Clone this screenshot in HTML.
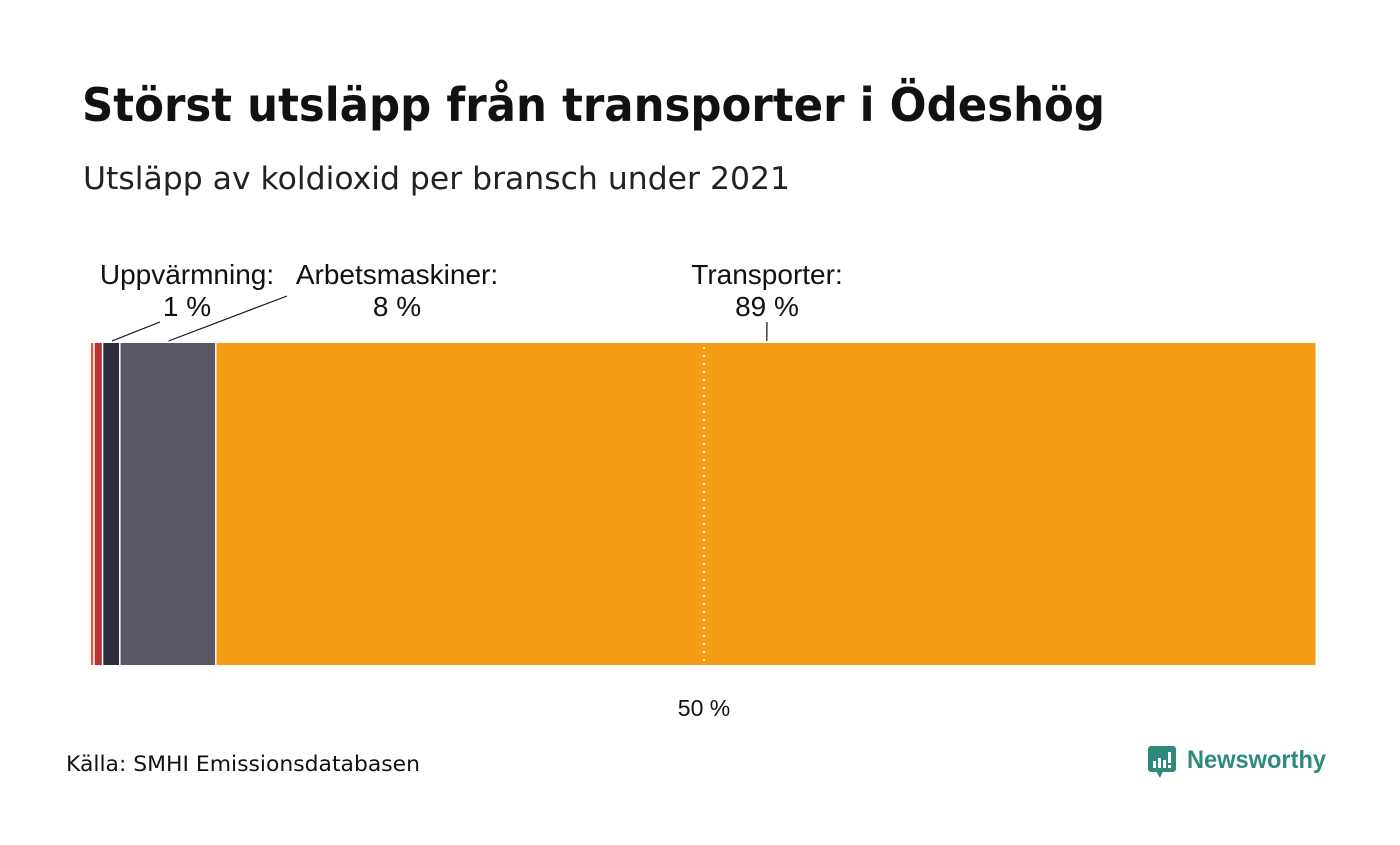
<!DOCTYPE html>
<html><head><meta charset="utf-8"><style>
body{margin:0;background:#fff;width:1400px;height:840px;overflow:hidden;font-family:"Liberation Sans",sans-serif}
</style></head><body>
<svg width="1400" height="840">
<text x="82" y="121" font-size="46" font-weight="bold" fill="#111" font-family="'DejaVu Sans',sans-serif" textLength="1023" lengthAdjust="spacingAndGlyphs">Störst utsläpp från transporter i Ödeshög</text>
<text x="83" y="189" font-size="31" fill="#222" font-family="'DejaVu Sans',sans-serif" textLength="707" lengthAdjust="spacingAndGlyphs">Utsläpp av koldioxid per bransch under 2021</text>
<g id="bars"></g>
<g id="labels" font-size="28" fill="#111" text-anchor="middle"></g>
<text x="704" y="716" font-size="23" text-anchor="middle" fill="#111">50 %</text>
<text x="66" y="771" font-size="21" fill="#111" font-family="'DejaVu Sans',sans-serif" textLength="354" lengthAdjust="spacingAndGlyphs">Källa: SMHI Emissionsdatabasen</text>
<g>
<rect x="1148" y="746" width="28" height="26" rx="3" fill="#2e8b7c"/>
<polygon points="1156,771 1163,771 1160,778" fill="#2e8b7c"/>
<rect x="1153" y="761" width="3" height="7" fill="#fff"/><rect x="1158" y="758" width="3" height="10" fill="#fff"/><rect x="1163" y="760" width="3" height="8" fill="#fff"/><rect x="1168" y="752" width="3" height="11" fill="#fff"/><rect x="1168" y="765" width="3" height="3" fill="#fff"/>
<text x="1187" y="768" font-size="25" font-weight="bold" fill="#2e8b7c" textLength="139" lengthAdjust="spacingAndGlyphs">Newsworthy</text>
</g>
</svg>
<script>
const categories=["Övrigt","Industri","Uppvärmning","Arbetsmaskiner","Transporter"];
const values=[0.3,0.7,1.4,7.8,89.4];
const colors=["#e05a2b","#b8323a","#2e2d3b","#5a5766","#f59c17"];
const x0=91,x1=1317,y0=343,y1=665;
const total=values.reduce((a,b)=>a+b,0);
const xs=v=>x0+(v/total)*(x1-x0);
const NS="http://www.w3.org/2000/svg";
const g=document.getElementById('bars');
let cum=0;const starts=[];
values.forEach((v,i)=>{
 const a=xs(cum),b=xs(cum+v);starts.push([a,b]);cum+=v;
 const r=document.createElementNS(NS,'rect');
 r.setAttribute('x',a);r.setAttribute('y',y0);r.setAttribute('width',Math.max(1.5,b-a-1.5));r.setAttribute('height',y1-y0);r.setAttribute('fill',colors[i]);
 
 
 g.appendChild(r);
});
const mid=document.createElementNS(NS,'line');
mid.setAttribute('x1',xs(total/2));mid.setAttribute('x2',xs(total/2));mid.setAttribute('y1',y0+4);mid.setAttribute('y2',y1);
mid.setAttribute('stroke','#fff');mid.setAttribute('stroke-width','2.5');mid.setAttribute('stroke-dasharray','2 6');


g.appendChild(mid);
const L=document.getElementById('labels');
function lbl(i,tx,lx,ly){
 const [a,b]=starts[i];const cx=(a+b)/2;
 const t1=document.createElementNS(NS,'text');t1.setAttribute('x',tx);t1.setAttribute('y',284);t1.textContent=categories[i]+':';
 
 
 L.appendChild(t1);
 const t2=document.createElementNS(NS,'text');t2.setAttribute('x',tx);t2.setAttribute('y',316);t2.textContent=Math.round(values[i])+' %';
 
 
 L.appendChild(t2);
 const ln=document.createElementNS(NS,'line');ln.setAttribute('x1',lx);ln.setAttribute('y1',ly);ln.setAttribute('x2',cx);ln.setAttribute('y2',341);
 ln.setAttribute('stroke','#111');ln.setAttribute('stroke-width','1.2');
 
 
 L.appendChild(ln);
}
lbl(2,187,160,322);lbl(3,397,287,296);lbl(4,767,767,322);
</script>
</body></html>
